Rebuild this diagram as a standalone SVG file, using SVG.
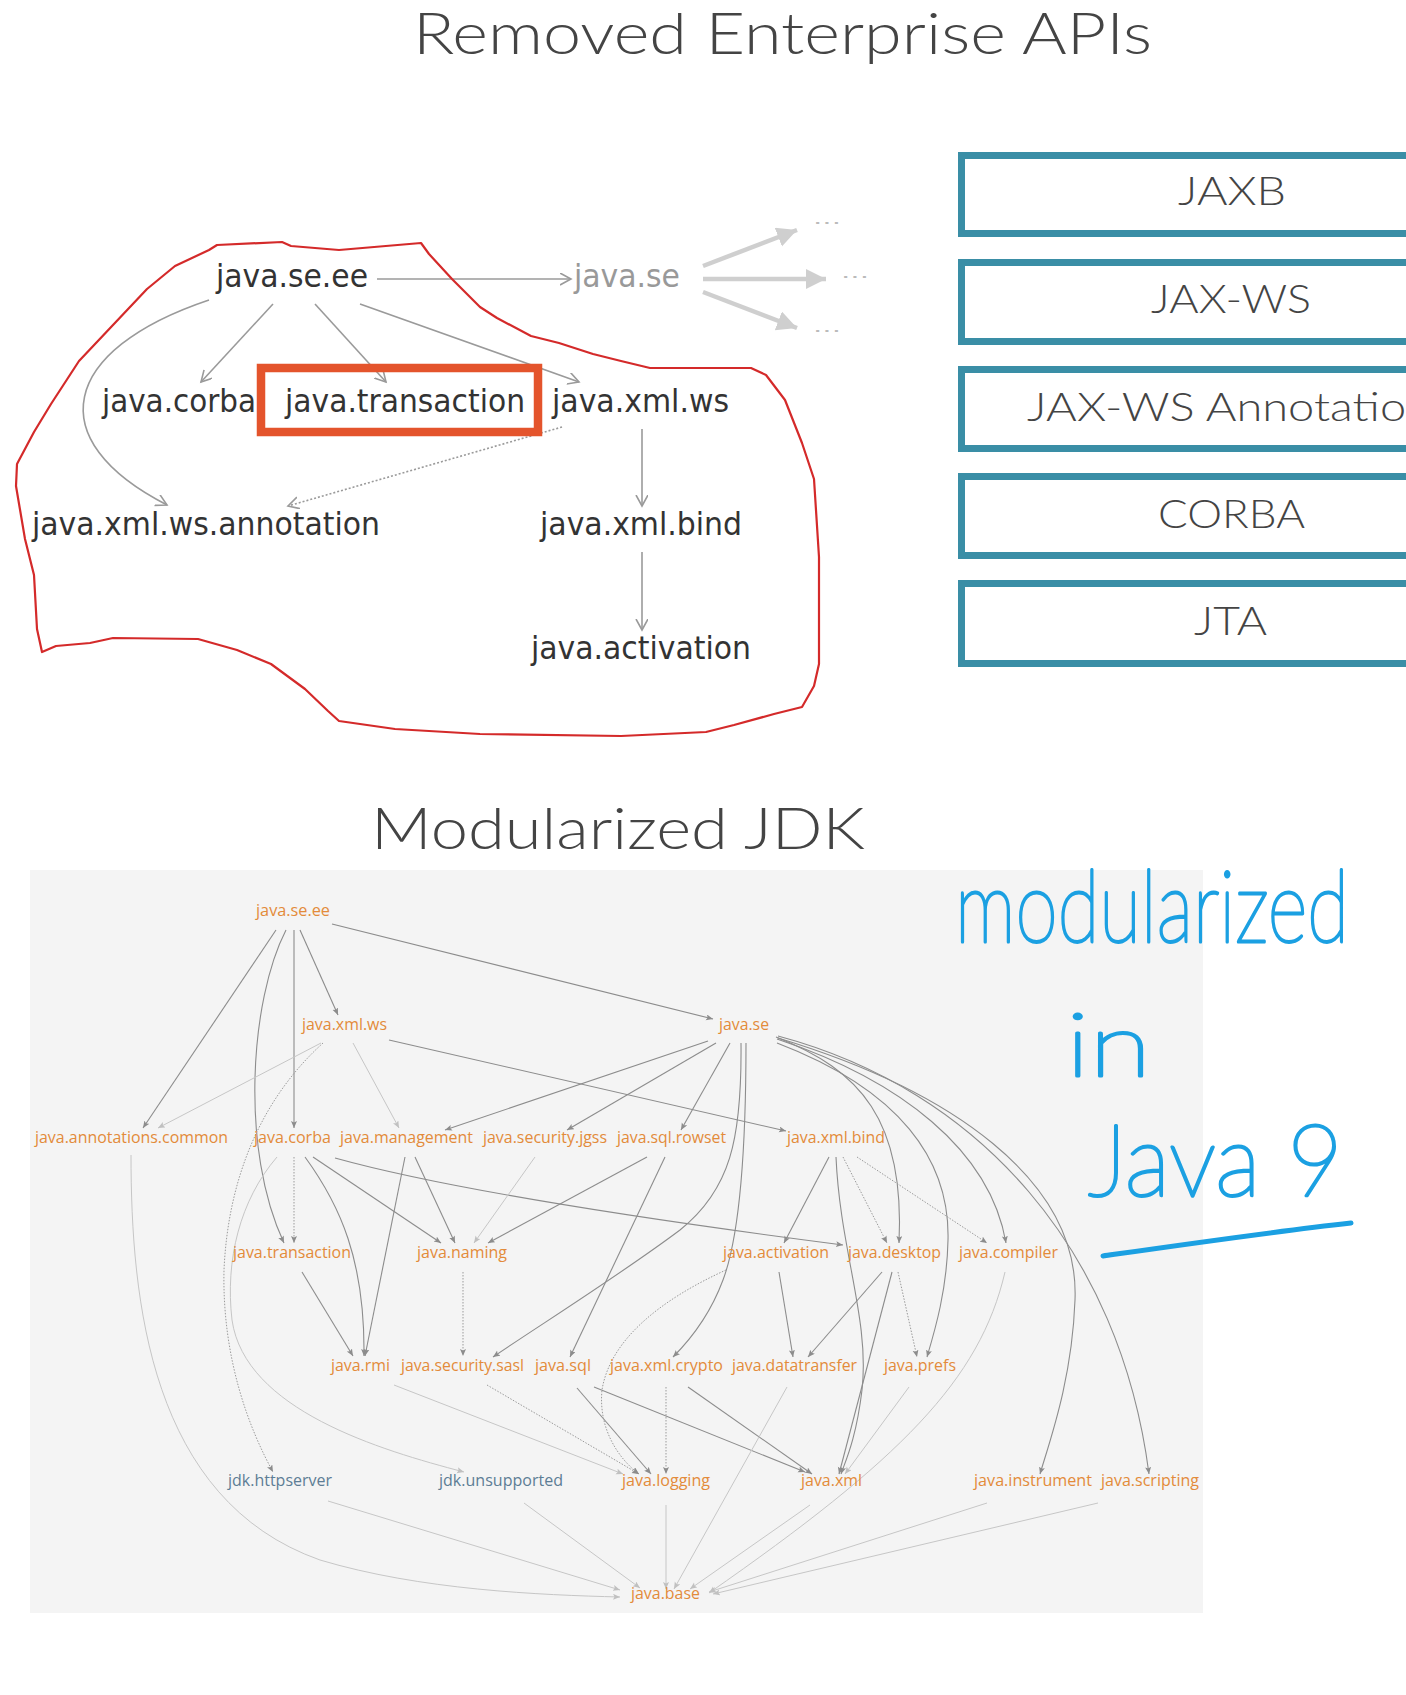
<svg xmlns="http://www.w3.org/2000/svg" width="1406" height="1695" viewBox="0 0 1406 1695">
<style>
.title{font-family:Lato,'Open Sans',sans-serif;font-weight:300;font-size:58px;fill:#444}
.t1{font-family:'DejaVu Sans Condensed','DejaVu Sans',sans-serif;font-stretch:condensed;font-size:32px;fill:#333}
.t1g{fill:#999}
.dots{font-family:'DejaVu Sans',sans-serif;font-size:16px;fill:#bbb}
.box{fill:#fff;stroke:#3a8ea6;stroke-width:7}
.boxt{font-family:Lato,'Open Sans',sans-serif;font-weight:300;font-size:40px;fill:#444}
.n{font-family:'Open Sans',sans-serif;font-size:16px;fill:#e38b3a}
.nj{fill:#5d7d95}
.hand{font-family:Lato,'DejaVu Sans',sans-serif;font-weight:100;fill:#1ba0e2;stroke:#1ba0e2;stroke-width:3;stroke-linejoin:round}
.te{fill:none;stroke:#9a9a9a;stroke-width:1.6}
.ted{fill:none;stroke:#9a9a9a;stroke-width:1.6;stroke-dasharray:2 2}
.tf{fill:none;stroke:#cfcfcf;stroke-width:4.5}
.e{fill:none;stroke:#8c8c8c;stroke-width:1.1}
.el{fill:none;stroke:#c6c6c6;stroke-width:1}
.ed{fill:none;stroke:#9a9a9a;stroke-width:1;stroke-dasharray:1.5 1.5}
</style>
<defs>
<marker id="at" markerUnits="userSpaceOnUse" markerWidth="14" markerHeight="14" refX="11" refY="6" orient="auto"><path d="M0,0 L11,6 L0,12" fill="none" stroke="#9a9a9a" stroke-width="1.6"/></marker>
<marker id="ab" markerUnits="userSpaceOnUse" markerWidth="24" markerHeight="24" refX="20" refY="10" orient="auto"><path d="M0,0 L20,10 L0,20 Z" fill="#cfcfcf"/></marker>
<marker id="ah" markerUnits="userSpaceOnUse" markerWidth="8" markerHeight="8" refX="7" refY="3" orient="auto"><path d="M0,0 L7,3 L0,6 L1.5,3 Z" fill="#8c8c8c"/></marker>
<marker id="al" markerUnits="userSpaceOnUse" markerWidth="8" markerHeight="8" refX="7" refY="3" orient="auto"><path d="M0,0 L7,3 L0,6 L1.5,3 Z" fill="#c0c0c0"/></marker>
</defs>
<rect width="1406" height="1695" fill="#fff"/>

<text class="title" x="413" y="54" textLength="739" lengthAdjust="spacingAndGlyphs">Removed Enterprise APIs</text>

<!-- Right boxes -->
<g id="box-jaxb"><rect class="box" x="961.5" y="155.5" width="470" height="78"/><text class="boxt" x="1178" y="205" textLength="108" lengthAdjust="spacingAndGlyphs">JAXB</text></g>
<g id="box-jaxws"><rect class="box" x="961.5" y="262.5" width="470" height="79"/><text class="boxt" x="1151" y="313" textLength="160" lengthAdjust="spacingAndGlyphs">JAX-WS</text></g>
<g id="box-jaxws-annotation"><rect class="box" x="961.5" y="369.5" width="470" height="79"/><text class="boxt" x="1027" y="421" textLength="405" lengthAdjust="spacingAndGlyphs">JAX-WS Annotation</text></g>
<g id="box-corba"><rect class="box" x="961.5" y="476.5" width="470" height="79"/><text class="boxt" x="1158" y="528" textLength="147" lengthAdjust="spacingAndGlyphs">CORBA</text></g>
<g id="box-jta"><rect class="box" x="961.5" y="583.5" width="470" height="80"/><text class="boxt" x="1194" y="635" textLength="73" lengthAdjust="spacingAndGlyphs">JTA</text></g>

<!-- Top graph connectors -->
<g id="connectors-top">
<path class="te" d="M377,279 L571,279" marker-end="url(#at)"/>
<path class="te" d="M273,304 L201,382" marker-end="url(#at)"/>
<path class="te" d="M315,304 L386,382" marker-end="url(#at)"/>
<path class="te" d="M360,304 L579,382" marker-end="url(#at)"/>
<path class="te" d="M209,300 C60,350 40,440 167,505" marker-end="url(#at)"/>
<path class="ted" d="M562,427 L288,506" marker-end="url(#at)"/>
<path class="te" d="M642,429 L642,506" marker-end="url(#at)"/>
<path class="te" d="M642,552 L642,630" marker-end="url(#at)"/>
<path class="tf" d="M703,266 L797,230" marker-end="url(#ab)"/>
<path class="tf" d="M703,279 L826,279" marker-end="url(#ab)"/>
<path class="tf" d="M703,292 L797,328" marker-end="url(#ab)"/>
</g>

<!-- Top graph nodes -->
<g id="t-java-se-ee"><text class="t1" x="216" y="287" textLength="152" lengthAdjust="spacingAndGlyphs">java.se.ee</text></g>
<g id="t-java-se"><text class="t1 t1g" x="574" y="287" textLength="106" lengthAdjust="spacingAndGlyphs">java.se</text></g>
<g id="t-dots"><text class="dots" x="813" y="224" textLength="28" lengthAdjust="spacingAndGlyphs">...</text><text class="dots" x="841" y="278" textLength="28" lengthAdjust="spacingAndGlyphs">...</text><text class="dots" x="813" y="332" textLength="28" lengthAdjust="spacingAndGlyphs">...</text></g>
<g id="t-java-corba"><text class="t1" x="102" y="412" textLength="154" lengthAdjust="spacingAndGlyphs">java.corba</text></g>
<g id="t-java-transaction"><rect x="261" y="368" width="277" height="64" fill="none" stroke="#e4542c" stroke-width="8.5"/><text class="t1" x="285" y="412" textLength="240" lengthAdjust="spacingAndGlyphs">java.transaction</text></g>
<g id="t-java-xml-ws"><text class="t1" x="552" y="412" textLength="177" lengthAdjust="spacingAndGlyphs">java.xml.ws</text></g>
<g id="t-java-xml-ws-annotation"><text class="t1" x="32" y="535" textLength="348" lengthAdjust="spacingAndGlyphs">java.xml.ws.annotation</text></g>
<g id="t-java-xml-bind"><text class="t1" x="540" y="535" textLength="202" lengthAdjust="spacingAndGlyphs">java.xml.bind</text></g>
<g id="t-java-activation"><text class="t1" x="531" y="659" textLength="220" lengthAdjust="spacingAndGlyphs">java.activation</text></g>

<!-- Red hand-drawn outline -->
<polygon id="red-outline" points="217,245 282,242 291,246 339,250 421,243 429,254 452,279 480,307 497,318 531,336 559,343 593,354 621,361 650,368 751,368 766,375 785,400 802,443 814,479 819,557 819,664 814,686 802,707 774,714 734,725 706,732 621,736 480,734 395,729 339,721 328,711 305,689 271,664 237,650 198,639 113,638 90,643 56,646 42,652 37,629 34,575 25,539 16,486 17,464 34,432 51,404 79,361 113,325 147,289 175,266 209,250" fill="none" stroke="#d42a2a" stroke-width="2.2" stroke-linejoin="round"/>

<text class="title" x="371" y="849" textLength="494" lengthAdjust="spacingAndGlyphs">Modularized JDK</text>

<rect id="panel" x="30" y="870" width="1173" height="743" fill="#f4f4f4"/>

<!-- Bottom graph connectors -->
<g id="connectors">
<path class="e" d="M276,930 L143,1128" marker-end="url(#ah)"/>
<path class="e" d="M286,930 C250,1000 240,1150 284,1243" marker-end="url(#ah)"/>
<path class="e" d="M294,930 L294,1128" marker-end="url(#ah)"/>
<path class="e" d="M300,930 L338,1015" marker-end="url(#ah)"/>
<path class="e" d="M332,924 L713,1019" marker-end="url(#ah)"/>
<path class="e" d="M389,1040 L786,1131" marker-end="url(#ah)"/>
<path class="e" d="M708,1041 L445,1130" marker-end="url(#ah)"/>
<path class="e" d="M716,1043 L567,1130" marker-end="url(#ah)"/>
<path class="e" d="M730,1043 L681,1130" marker-end="url(#ah)"/>
<path class="e" d="M741,1043 C742,1140 730,1190 680,1230 C620,1275 540,1325 493,1357" marker-end="url(#ah)"/>
<path class="e" d="M746,1043 C746,1160 738,1240 723,1280 C710,1315 690,1340 673,1357" marker-end="url(#ah)"/>
<path class="e" d="M776,1037 C860,1070 905,1120 899,1243" marker-end="url(#ah)"/>
<path class="e" d="M777,1039 C900,1080 990,1150 1006,1243" marker-end="url(#ah)"/>
<path class="e" d="M777,1043 C900,1090 950,1160 948,1240 C947,1290 935,1330 927,1357" marker-end="url(#ah)"/>
<path class="e" d="M778,1038 C950,1090 1080,1180 1075,1300 C1072,1380 1050,1440 1040,1474" marker-end="url(#ah)"/>
<path class="e" d="M778,1036 C980,1090 1120,1250 1149,1474" marker-end="url(#ah)"/>
<path class="e" d="M829,1157 L784,1243" marker-end="url(#ah)"/>
<path class="e" d="M836,1157 C840,1250 870,1320 862,1390 C856,1440 845,1462 841,1474" marker-end="url(#ah)"/>
<path class="e" d="M405,1157 L365,1356" marker-end="url(#ah)"/>
<path class="e" d="M415,1157 L455,1243" marker-end="url(#ah)"/>
<path class="e" d="M305,1157 C340,1205 365,1260 364,1356" marker-end="url(#ah)"/>
<path class="e" d="M313,1157 L441,1243" marker-end="url(#ah)"/>
<path class="e" d="M335,1158 C450,1190 650,1220 843,1245" marker-end="url(#ah)"/>
<path class="e" d="M647,1157 L488,1243" marker-end="url(#ah)"/>
<path class="e" d="M665,1157 L570,1357" marker-end="url(#ah)"/>
<path class="e" d="M302,1272 L353,1356" marker-end="url(#ah)"/>
<path class="e" d="M779,1272 L793,1357" marker-end="url(#ah)"/>
<path class="e" d="M882,1272 L808,1357" marker-end="url(#ah)"/>
<path class="e" d="M892,1272 L839,1474" marker-end="url(#ah)"/>
<path class="e" d="M577,1388 L651,1474" marker-end="url(#ah)"/>
<path class="e" d="M594,1387 L805,1472" marker-end="url(#ah)"/>
<path class="e" d="M688,1387 L812,1474" marker-end="url(#ah)"/>
<path class="el" d="M909,1387 L845,1474" marker-end="url(#al)"/>
<path class="el" d="M321,1043 L158,1128" marker-end="url(#al)"/>
<path class="el" d="M353,1043 L399,1128" marker-end="url(#al)"/>
<path class="el" d="M535,1157 L474,1243" marker-end="url(#al)"/>
<path class="el" d="M131,1155 C131,1300 150,1500 320,1560 C420,1590 540,1595 620,1597" marker-end="url(#al)"/>
<path class="el" d="M277,1157 C240,1200 225,1260 232,1320 C245,1410 380,1450 464,1472" marker-end="url(#al)"/>
<path class="el" d="M394,1385 L623,1474" marker-end="url(#al)"/>
<path class="el" d="M1005,1272 C980,1380 900,1460 709,1593" marker-end="url(#al)"/>
<path class="el" d="M787,1387 L674,1589" marker-end="url(#al)"/>
<path class="el" d="M666,1505 L666,1589" marker-end="url(#al)"/>
<path class="el" d="M810,1505 L690,1589" marker-end="url(#al)"/>
<path class="el" d="M987,1503 L709,1592" marker-end="url(#al)"/>
<path class="el" d="M1098,1503 L713,1594" marker-end="url(#al)"/>
<path class="el" d="M328,1501 L620,1590" marker-end="url(#al)"/>
<path class="el" d="M524,1503 L640,1588" marker-end="url(#al)"/>
<path class="ed" d="M323,1043 C260,1100 228,1180 224,1270 C222,1360 250,1430 273,1472" marker-end="url(#ah)"/>
<path class="ed" d="M294,1157 L294,1243" marker-end="url(#ah)"/>
<path class="ed" d="M843,1157 L887,1243" marker-end="url(#ah)"/>
<path class="ed" d="M857,1157 L987,1243" marker-end="url(#ah)"/>
<path class="ed" d="M463,1272 L463,1356" marker-end="url(#ah)"/>
<path class="ed" d="M726,1270 C660,1300 610,1340 602,1390 C598,1430 620,1460 639,1474" marker-end="url(#ah)"/>
<path class="ed" d="M898,1272 L917,1357" marker-end="url(#ah)"/>
<path class="ed" d="M487,1385 L639,1474" marker-end="url(#ah)"/>
<path class="ed" d="M666,1387 L666,1474" marker-end="url(#ah)"/>
</g>

<!-- Bottom graph nodes -->
<g id="n-java-se-ee"><text class="n" x="256" y="916" textLength="74" lengthAdjust="spacingAndGlyphs">java.se.ee</text></g>
<g id="n-java-xml-ws"><text class="n" x="302" y="1030" textLength="85" lengthAdjust="spacingAndGlyphs">java.xml.ws</text></g>
<g id="n-java-se"><text class="n" x="719" y="1030" textLength="50" lengthAdjust="spacingAndGlyphs">java.se</text></g>
<g id="n-java-annotations-common"><text class="n" x="35" y="1143" textLength="193" lengthAdjust="spacingAndGlyphs">java.annotations.common</text></g>
<g id="n-java-corba"><text class="n" x="254" y="1143" textLength="77" lengthAdjust="spacingAndGlyphs">java.corba</text></g>
<g id="n-java-management"><text class="n" x="340" y="1143" textLength="133" lengthAdjust="spacingAndGlyphs">java.management</text></g>
<g id="n-java-security-jgss"><text class="n" x="483" y="1143" textLength="124" lengthAdjust="spacingAndGlyphs">java.security.jgss</text></g>
<g id="n-java-sql-rowset"><text class="n" x="617" y="1143" textLength="109" lengthAdjust="spacingAndGlyphs">java.sql.rowset</text></g>
<g id="n-java-xml-bind"><text class="n" x="787" y="1143" textLength="98" lengthAdjust="spacingAndGlyphs">java.xml.bind</text></g>
<g id="n-java-transaction"><text class="n" x="233" y="1258" textLength="118" lengthAdjust="spacingAndGlyphs">java.transaction</text></g>
<g id="n-java-naming"><text class="n" x="417" y="1258" textLength="90" lengthAdjust="spacingAndGlyphs">java.naming</text></g>
<g id="n-java-activation"><text class="n" x="723" y="1258" textLength="106" lengthAdjust="spacingAndGlyphs">java.activation</text></g>
<g id="n-java-desktop"><text class="n" x="848" y="1258" textLength="93" lengthAdjust="spacingAndGlyphs">java.desktop</text></g>
<g id="n-java-compiler"><text class="n" x="959" y="1258" textLength="99" lengthAdjust="spacingAndGlyphs">java.compiler</text></g>
<g id="n-java-rmi"><text class="n" x="331" y="1371" textLength="59" lengthAdjust="spacingAndGlyphs">java.rmi</text></g>
<g id="n-java-security-sasl"><text class="n" x="401" y="1371" textLength="123" lengthAdjust="spacingAndGlyphs">java.security.sasl</text></g>
<g id="n-java-sql"><text class="n" x="535" y="1371" textLength="56" lengthAdjust="spacingAndGlyphs">java.sql</text></g>
<g id="n-java-xml-crypto"><text class="n" x="610" y="1371" textLength="113" lengthAdjust="spacingAndGlyphs">java.xml.crypto</text></g>
<g id="n-java-datatransfer"><text class="n" x="732" y="1371" textLength="125" lengthAdjust="spacingAndGlyphs">java.datatransfer</text></g>
<g id="n-java-prefs"><text class="n" x="884" y="1371" textLength="72" lengthAdjust="spacingAndGlyphs">java.prefs</text></g>
<g id="n-jdk-httpserver"><text class="n nj" x="228" y="1486" textLength="104" lengthAdjust="spacingAndGlyphs">jdk.httpserver</text></g>
<g id="n-jdk-unsupported"><text class="n nj" x="439" y="1486" textLength="124" lengthAdjust="spacingAndGlyphs">jdk.unsupported</text></g>
<g id="n-java-logging"><text class="n" x="622" y="1486" textLength="88" lengthAdjust="spacingAndGlyphs">java.logging</text></g>
<g id="n-java-xml"><text class="n" x="801" y="1486" textLength="61" lengthAdjust="spacingAndGlyphs">java.xml</text></g>
<g id="n-java-instrument"><text class="n" x="974" y="1486" textLength="118" lengthAdjust="spacingAndGlyphs">java.instrument</text></g>
<g id="n-java-scripting"><text class="n" x="1101" y="1486" textLength="98" lengthAdjust="spacingAndGlyphs">java.scripting</text></g>
<g id="n-java-base"><text class="n" x="631" y="1599" textLength="69" lengthAdjust="spacingAndGlyphs">java.base</text></g>

<!-- Handwritten annotation -->
<g id="handwriting">
<text class="hand" x="955" y="942" font-size="100" textLength="394" lengthAdjust="spacingAndGlyphs">modularized</text>
<text class="hand" x="1066" y="1076" font-size="88" textLength="85" lengthAdjust="spacingAndGlyphs">in</text>
<text class="hand" x="1088" y="1196" font-size="100" textLength="255" lengthAdjust="spacingAndGlyphs">Java 9</text>
<path d="M1103,1256 C1180,1245 1270,1232 1351,1223" fill="none" stroke="#1ba0e2" stroke-width="5" stroke-linecap="round"/>
</g>
</svg>
